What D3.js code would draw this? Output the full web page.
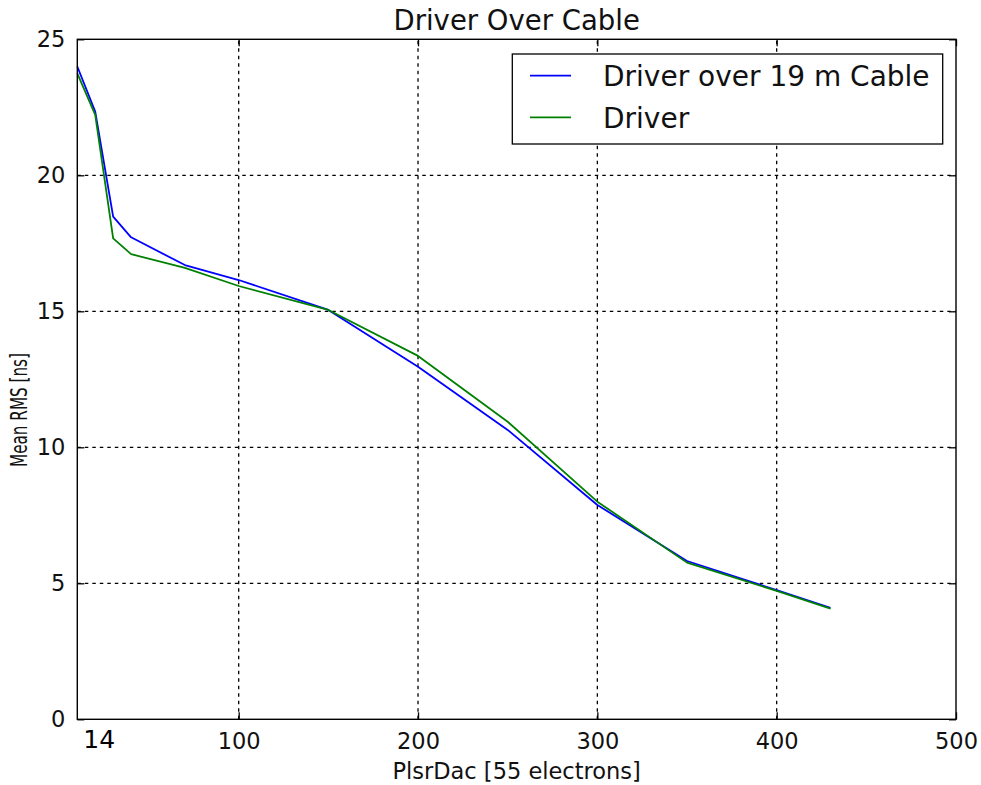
<!DOCTYPE html>
<html>
<head>
<meta charset="utf-8">
<script src="https://cdn.jsdelivr.net/npm/d3@7"></script>
<style>
  html, body { margin: 0; padding: 0; background: #fff; }
  svg { display: block; }
  text { font-family: "DejaVu Sans", sans-serif; fill: #111; }
</style>
</head>
<body>
<svg id="chart" width="981" height="785"></svg>
<script>
// PlsrDac settings and the mean RMS measured at each one
const plsrDac = [10, 20, 30, 40, 70, 100, 150, 200, 250, 300, 350, 400, 430];
const rmsOverCable = [24.0, 22.34, 18.48, 17.72, 16.70, 16.15, 15.05, 12.96, 10.64, 7.88, 5.82, 4.75, 4.10];
const rmsDriver = [23.75, 22.22, 17.68, 17.10, 16.60, 15.93, 15.05, 13.36, 10.94, 8.00, 5.76, 4.72, 4.07];

const xTicks = [100, 200, 300, 400, 500];
const yTicks = [0, 5, 10, 15, 20, 25];
const seriesNames = ["Driver over 19 m Cable", "Driver"];
const seriesColors = ["#0000ff", "#008000"];
const firstSetting = "14";

const W = 981, H = 785;
const m = { left: 77.3, right: W - 956, top: 39.3, bottom: H - 719.3 };
const svg = d3.select("#chart");

const x = d3.scaleLinear().domain([10, 500]).range([m.left, W - m.right]);
const y = d3.scaleLinear().domain([0, 25]).range([H - m.bottom, m.top]);
const iw = W - m.left - m.right, ih = H - m.top - m.bottom;

// dotted grid
const grid = svg.append("g");
grid.selectAll("line.gx").data(xTicks.filter(d => d < 500)).join("line")
  .attr("x1", d => x(d)).attr("x2", d => x(d))
  .attr("y1", y(0)).attr("y2", y(25))
  .attr("stroke", "#000").attr("stroke-width", 1.3).attr("stroke-dasharray", "3.5,4");
grid.selectAll("line.gy").data(yTicks.filter(d => d > 0 && d < 25)).join("line")
  .attr("x1", x(10)).attr("x2", x(500))
  .attr("y1", d => y(d)).attr("y2", d => y(d))
  .attr("stroke", "#000").attr("stroke-width", 1.3).attr("stroke-dasharray", "3.5,4");

// data lines
const series = [rmsOverCable, rmsDriver];
const line = d3.line().x((d, i) => x(plsrDac[i])).y(d => y(d));
series.forEach((vals, k) => {
  svg.append("path").datum(vals)
    .attr("d", line)
    .attr("fill", "none")
    .attr("stroke", seriesColors[k])
    .attr("stroke-width", 1.8)
    .attr("stroke-linejoin", "round");
});

// axes with inward ticks on all four sides
const tickLen = 7;
const axB = d3.axisBottom(x).tickValues(xTicks).tickSizeInner(-tickLen).tickSizeOuter(0).tickPadding(14);
const axT = d3.axisTop(x).tickValues(xTicks).tickSizeInner(-tickLen).tickSizeOuter(0).tickFormat("");
const axL = d3.axisLeft(y).tickValues(yTicks).tickSizeInner(-tickLen).tickSizeOuter(0).tickPadding(12);
const axR = d3.axisRight(y).tickValues(yTicks).tickSizeInner(-tickLen).tickSizeOuter(0).tickFormat("");

function style(g) {
  g.select(".domain").remove();
  g.selectAll(".tick line").attr("stroke", "#000").attr("stroke-width", 1.3);
  g.selectAll(".tick text").attr("font-size", 22.5).attr("font-family", "DejaVu Sans").attr("fill", "#111");
}
svg.append("g").attr("transform", `translate(0,${y(0)})`).call(axB).call(style);
svg.append("g").attr("transform", `translate(0,${y(25)})`).call(axT).call(style);
svg.append("g").attr("transform", `translate(${x(10)},0)`).call(axL).call(style);
svg.append("g").attr("transform", `translate(${x(500)},0)`).call(axR).call(style);

// frame
svg.append("rect").attr("x", m.left).attr("y", m.top).attr("width", iw).attr("height", ih)
  .attr("fill", "none").attr("stroke", "#000").attr("stroke-width", 1.4);

// first setting marker label at the left end of the x axis
svg.append("text").attr("x", x(10) + 6).attr("y", 747.5)
  .attr("font-family", "Liberation Sans, Arial, sans-serif").attr("font-size", 25)
  .style("fill", "#000").text(firstSetting);

// titles
svg.append("text").attr("x", x(10) + iw / 2).attr("y", 30).attr("text-anchor", "middle")
  .attr("font-size", 27.5).text("Driver Over Cable");
svg.append("text").attr("x", x(10) + iw / 2).attr("y", 779).attr("text-anchor", "middle")
  .attr("font-size", 22.5).text("PlsrDac [55 electrons]");
svg.append("text").attr("transform", "translate(27,410) rotate(-90)").attr("text-anchor", "middle")
  .attr("font-family", "Liberation Sans, Arial, sans-serif")
  .attr("font-size", 23).attr("textLength", 114).attr("lengthAdjust", "spacingAndGlyphs")
  .text("Mean RMS [ns]");

// legend
const lg = svg.append("g");
lg.append("rect").attr("x", 512.3).attr("y", 54).attr("width", 430.4).attr("height", 90)
  .attr("fill", "#fff").attr("stroke", "#000").attr("stroke-width", 1.3);
seriesNames.forEach((name, k) => {
  const ly = 75.7 + k * 41.6;
  lg.append("line").attr("x1", 530).attr("x2", 571).attr("y1", ly).attr("y2", ly)
    .attr("stroke", seriesColors[k]).attr("stroke-width", 1.8);
  lg.append("text").attr("x", 603).attr("y", ly + 10.5).attr("font-size", 28).text(name);
});
</script>
</body>
</html>
